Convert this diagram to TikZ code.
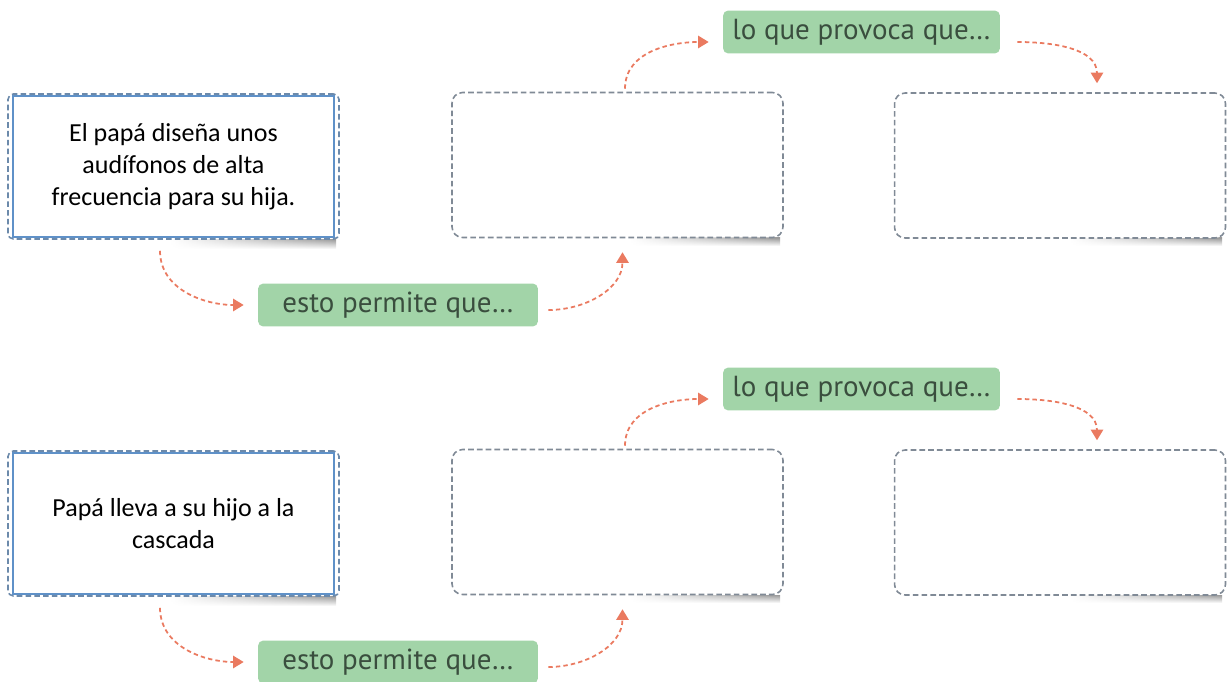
\documentclass[tikz,border=0pt]{standalone}
\usepackage{fontspec}
\setmainfont{Carlito}
\newfontfamily\labelfont{PT Sans}
\usetikzlibrary{arrows.meta,fadings}

\definecolor{boxgray}{RGB}{128,138,150}
\definecolor{boxblue}{RGB}{95,145,200}
\definecolor{tagfill}{RGB}{162,212,168}
\definecolor{tagtext}{RGB}{58,78,62}
\definecolor{flowred}{RGB}{234,122,96}

\begin{document}
\begin{tikzpicture}[x=0.02cm, y=-0.02cm,
  emptybox/.style={draw=boxgray, dash pattern=on 3.2pt off 1.8pt, line width=0.9pt,
    rounded corners=6pt, minimum width=6.62cm, minimum height=2.9cm, fill=white},
  startbox/.style={emptybox, draw=boxblue!60!gray, rounded corners=3pt,
    font=\fontsize{14.8}{18.3}\selectfont, align=center, text=black},
  tag/.style={fill=tagfill, rounded corners=3pt, text=tagtext,
    font=\labelfont\fontsize{16.5}{18}\selectfont, minimum height=0.86cm, inner sep=0pt},
  flow/.style={draw=flowred, dash pattern=on 2.5pt off 1.8pt, line width=1pt,
    -{Triangle[width=7pt,length=6pt]}},
  shadowbar/.style={left color=white, right color=black!40, path fading=south}]
  \useasboundingbox (0,0) rectangle (1227,682);
  %
  \foreach \r/\dy/\txt in {1/0/{El papá diseña unos\\audífonos de alta\\frecuencia para su hija.},
                           2/357/{Papá lleva a su hijo a la\\cascada}} {
    % shadows under the boxes
    \shade[shadowbar] (170,239+\dy) rectangle (336,249+\dy);
    \shade[shadowbar] (630,238+\dy) rectangle (780,246+\dy);
    \shade[shadowbar] (1070,238+\dy) rectangle (1222,246+\dy);
    %
    \node[startbox] (l\r) at (173.5,166.5+\dy) {\txt};
    \draw[boxblue, line width=1.1pt] ([shift={(6,3)}]l\r.north west) rectangle ([shift={(-6,-3)}]l\r.south east);
    \node[emptybox] (m\r) at (617.5,165+\dy) {};
    \node[emptybox] (n\r) at (1060,165.5+\dy) {};
    %
    \node[tag, minimum width=5.6cm] (e\r) at (398,305+\dy) {esto permite que…};
    \node[tag, minimum width=5.54cm] (p\r) at (861.5,32+\dy) {lo que provoca que…};
    %
    \draw[flow] ([xshift=-0.27cm,yshift=-0.22cm]l\r.south) to[out=-90,in=180] ([xshift=-0.28cm]e\r.west);
    \draw[flow] ([xshift=0.2cm,yshift=-0.1cm]e\r.east) to[out=0,in=-90] ([xshift=0.1cm,yshift=-0.28cm]m\r.south);
    \draw[flow] ([xshift=0.15cm,yshift=0.06cm]m\r.north) to[out=90,in=180] ([xshift=-0.28cm,yshift=-0.2cm]p\r.west);
    \draw[flow] ([xshift=0.34cm,yshift=-0.2cm]p\r.east) to[out=0,in=90] ([xshift=0.74cm,yshift=0.18cm]n\r.north);
  }
\end{tikzpicture}
\end{document}
